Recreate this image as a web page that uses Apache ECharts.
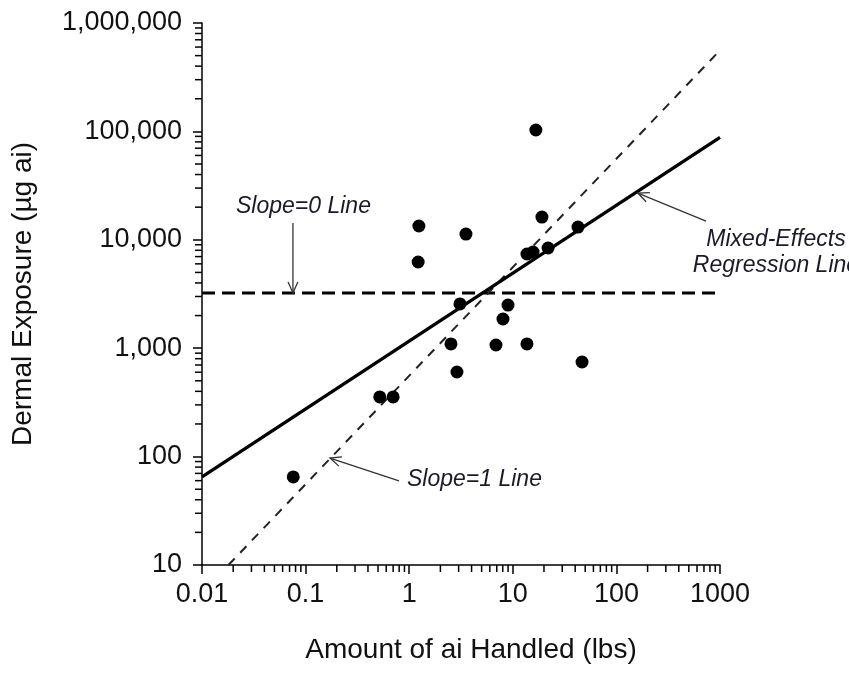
<!DOCTYPE html>
<html>
<head>
<meta charset="utf-8">
<script src="https://cdn.jsdelivr.net/npm/echarts@6/dist/echarts.min.js"></script>
<style>
  html, body { margin: 0; padding: 0; background: #fff; }
  #chart { width: 849px; height: 675px; }
</style>
</head>
<body>
<div id="chart"></div>
<script>
// Observations: amount of active ingredient handled (lbs) and dermal exposure (µg ai)
const amountHandled = [16.7, 1.24, 3.53, 1.22, 19.1, 42.6, 13.7, 15.7, 21.9, 3.09,
                       8.99, 8.04, 2.53, 6.88, 13.7, 2.89, 0.52, 0.70, 46.6, 0.076];
const dermalExposure = [103000, 13400, 11300, 6240, 16200, 13100, 7400, 7710, 8400, 2560,
                        2500, 1860, 1094, 1070, 1094, 603, 355, 355, 746, 65];

// Reference lines, given by their end points in data units
const regressionLine = [[0.01, 65], [1000, 88000]];
const slopeOneLine = [[0.018, 10], [1000, 560000]];
const slopeZeroLine = [[0.01, 3230], [1000, 3230]];

// Axis ticks and their labels
const xTicks = [0.01, 0.1, 1, 10, 100, 1000];
const xTickLabels = ['0.01', '0.1', '1', '10', '100', '1000'];
const yTicks = [10, 100, 1000, 10000, 100000, 1000000];
const yTickLabels = ['10', '100', '1,000', '10,000', '100,000', '1,000,000'];

// Callout arrows: [tipX, tipY, tailX, tailY]
const calloutArrows = [
  [0.0755, 3230, 0.0755, 14300],
  [161, 27000, 733, 14900],
  [0.172, 97, 0.797, 59.6]
];
// Callout texts: [x, y, text, align]
const calloutTexts = [
  [0.0213, 20100, 'Slope=0 Line', 'left'],
  [0.953, 60.8, 'Slope=1 Line', 'left'],
  [3470, 7640, 'Mixed-Effects\nRegression Line', 'center']
];

const FONT = '"Liberation Sans", Arial, sans-serif';
const INK = '#111';

// Minor ticks at 2..9 within every decade
function minorTicks(majors) {
  const out = [];
  for (let i = 0; i < majors.length - 1; i++) {
    for (let k = 2; k <= 9; k++) out.push(majors[i] * k);
  }
  return out;
}
const xMinor = minorTicks(xTicks);
const yMinor = minorTicks(yTicks);

function tickLabel(ticks, labels) {
  return function (v) {
    let best = 0, bd = Infinity;
    for (let i = 0; i < ticks.length; i++) {
      const d = Math.abs(Math.log10(v) - Math.log10(ticks[i]));
      if (d < bd) { bd = d; best = i; }
    }
    return labels[best];
  };
}

const X_MIN = xTicks[0], X_MAX = xTicks[xTicks.length - 1];
const Y_MIN = yTicks[0], Y_MAX = yTicks[yTicks.length - 1];
const MINOR_LEN = 7;

const chart = echarts.init(document.getElementById('chart'), null, { renderer: 'canvas' });

chart.setOption({
  animation: false,
  backgroundColor: '#fff',
  grid: { left: 202, right: 129, top: 23, bottom: 110, containLabel: false },
  xAxis: {
    type: 'log', logBase: 10, min: X_MIN, max: X_MAX,
    axisLine: { lineStyle: { color: '#000', width: 1.5 } },
    axisTick: { inside: false, length: 9, lineStyle: { color: '#000', width: 1.5 } },
    axisLabel: { formatter: tickLabel(xTicks, xTickLabels), fontSize: 27, fontFamily: FONT, color: INK, margin: 16 },
    splitLine: { show: false },
    minorTick: { show: false },
    name: 'Amount of ai Handled (lbs)', nameLocation: 'middle', nameGap: 71,
    nameTextStyle: { fontSize: 28, fontFamily: FONT, color: INK, padding: [0, 0, 0, 20] }
  },
  yAxis: {
    type: 'log', logBase: 10, min: Y_MIN, max: Y_MAX,
    axisLine: { lineStyle: { color: '#000', width: 1.5 } },
    axisTick: { inside: false, length: 9, lineStyle: { color: '#000', width: 1.5 } },
    axisLabel: { formatter: tickLabel(yTicks, yTickLabels), fontSize: 27, fontFamily: FONT, color: INK, margin: 20 },
    splitLine: { show: false },
    name: 'Dermal Exposure (µg ai)', nameLocation: 'middle', nameGap: 165,
    nameTextStyle: { fontSize: 28, fontFamily: FONT, color: INK }
  },
  series: [
    {
      name: 'x minor ticks', type: 'custom', silent: true, clip: false,
      data: xMinor.map(v => [v, Y_MIN]),
      renderItem: function (params, api) {
        const p = api.coord([api.value(0), api.value(1)]);
        return { type: 'line', shape: { x1: p[0], y1: p[1], x2: p[0], y2: p[1] + MINOR_LEN },
                 style: { stroke: '#000', lineWidth: 1.5 } };
      }
    },
    {
      name: 'y minor ticks', type: 'custom', silent: true, clip: false,
      data: yMinor.map(v => [X_MIN, v]),
      renderItem: function (params, api) {
        const p = api.coord([api.value(0), api.value(1)]);
        return { type: 'line', shape: { x1: p[0] - MINOR_LEN, y1: p[1], x2: p[0], y2: p[1] },
                 style: { stroke: '#000', lineWidth: 1.5 } };
      }
    },
    {
      name: 'Slope=0 Line', type: 'line', data: slopeZeroLine, symbol: 'none', z: 2,
      lineStyle: { color: '#000', width: 3, type: [13, 7] }
    },
    {
      name: 'Slope=1 Line', type: 'line', data: slopeOneLine, symbol: 'none', z: 2,
      lineStyle: { color: '#222', width: 2, type: [9, 8] }
    },
    {
      name: 'Mixed-Effects Regression Line', type: 'line', data: regressionLine, symbol: 'none', z: 3,
      lineStyle: { color: '#000', width: 3.3 }
    },
    {
      name: 'Observations', type: 'scatter', z: 4,
      data: amountHandled.map((x, i) => [x, dermalExposure[i]]),
      symbol: 'circle', symbolSize: 13,
      itemStyle: { color: '#000', opacity: 1 }
    },
    {
      name: 'callout arrows', type: 'custom', silent: true, clip: false, z: 5,
      encode: { x: [0, 2], y: [1, 3] },
      data: calloutArrows,
      renderItem: function (params, api) {
        const tip = api.coord([api.value(0), api.value(1)]);
        const tail = api.coord([api.value(2), api.value(3)]);
        const ang = Math.atan2(tail[1] - tip[1], tail[0] - tip[0]);
        const L = 12, spread = 0.42;
        const h1 = [tip[0] + L * Math.cos(ang + spread), tip[1] + L * Math.sin(ang + spread)];
        const h2 = [tip[0] + L * Math.cos(ang - spread), tip[1] + L * Math.sin(ang - spread)];
        const st = { stroke: '#333', lineWidth: 1.3, fill: null };
        return {
          type: 'group',
          children: [
            { type: 'line', shape: { x1: tail[0], y1: tail[1], x2: tip[0], y2: tip[1] }, style: st },
            { type: 'polyline', shape: { points: [h1, tip, h2] }, style: st }
          ]
        };
      }
    },
    {
      name: 'callout texts', type: 'custom', silent: true, clip: false, z: 5,
      encode: { x: 0, y: 1 },
      data: calloutTexts,
      renderItem: function (params, api) {
        const item = calloutTexts[params.dataIndex];
        const p = api.coord([item[0], item[1]]);
        return {
          type: 'text', x: p[0], y: p[1],
          style: {
            text: item[2], fill: '#1a1a2a', align: item[3], verticalAlign: 'middle',
            fontSize: 23, fontStyle: 'italic', fontFamily: FONT, lineHeight: 26
          }
        };
      }
    }
  ]
});
</script>
</body>
</html>
